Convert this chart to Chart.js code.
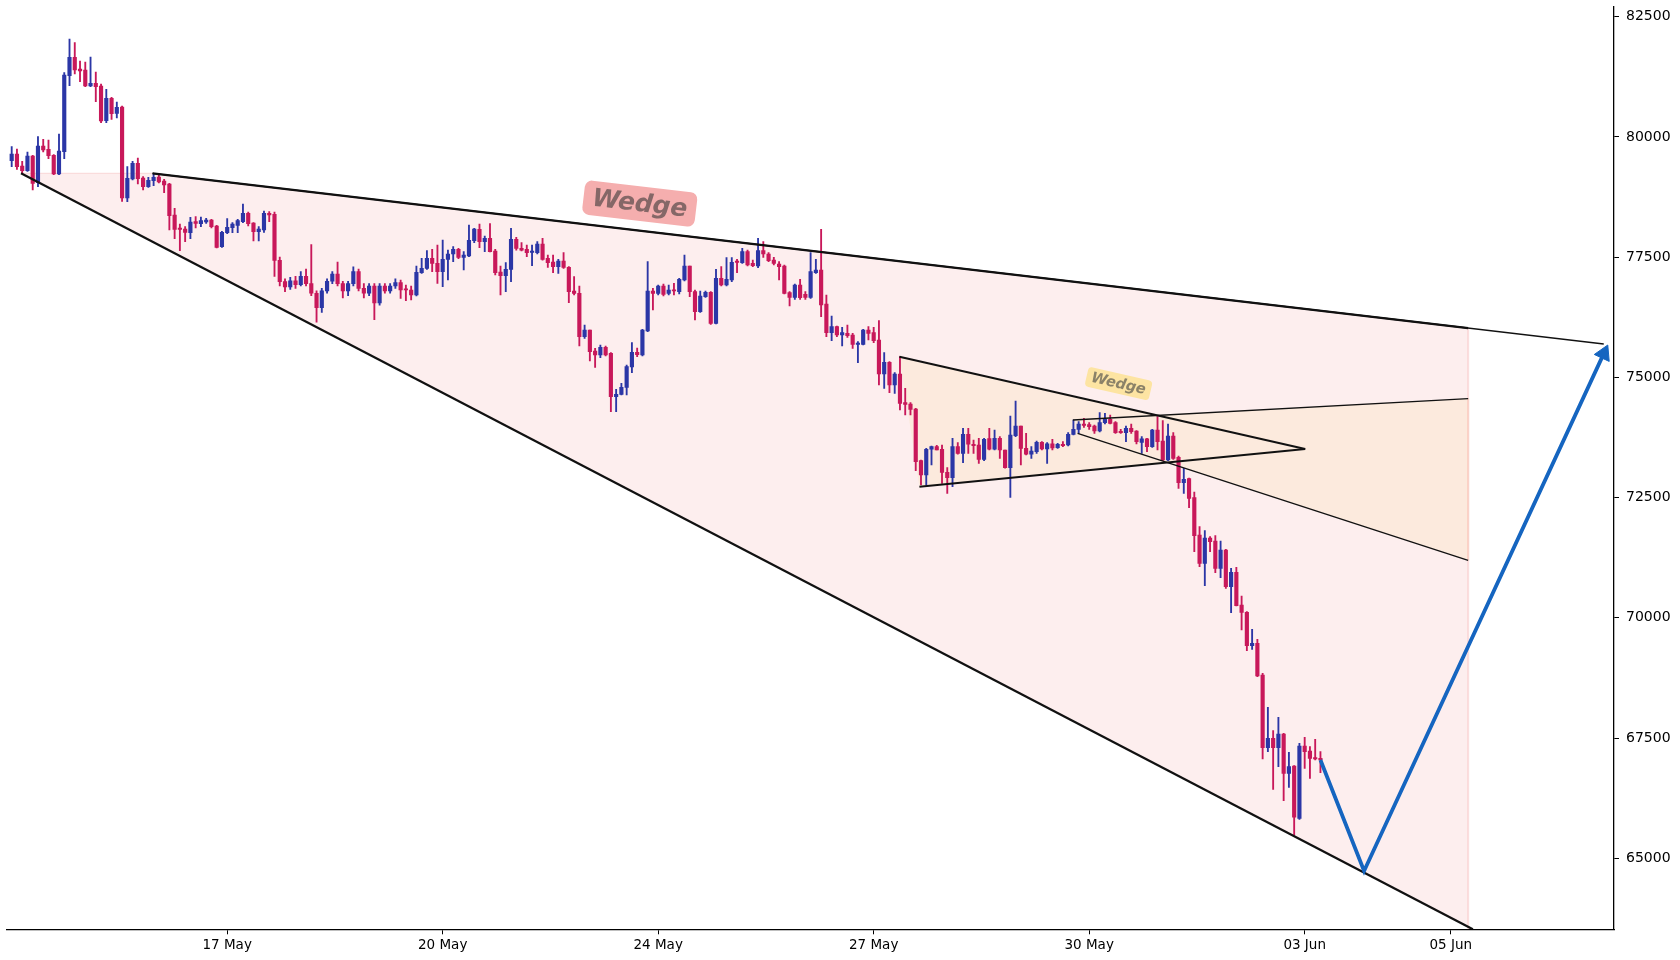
<!DOCTYPE html>
<html><head><meta charset="utf-8">
<script src="https://cdn.jsdelivr.net/npm/chart.js@4.4.1/dist/chart.umd.min.js"></script>
<style>html,body{margin:0;padding:0;background:#fff;}#wrap{width:1680px;height:960px;}</style>
</head><body><div id="wrap"><canvas id="c" width="1680" height="960"></canvas></div>
<script>
// ---- candle data (index-based x axis) ----
const OPEN = [79506,79645,79395,79298,79603,79049,79811,79742,79617,79229,79693,81274,81655,81412,81391,81059,81114,81059,80338,80802,80491,80622,78730,79125,79451,79146,78966,79090,79167,79083,79021,78377,78092,78085,78009,78238,78196,78231,78273,78148,77718,78009,78113,78162,78238,78411,78210,78030,78065,78411,78391,77433,76990,76880,77010,76930,77100,76950,76750,76450,76800,77000,77150,76950,76800,76950,77200,76850,76750,76900,76550,76900,76800,76900,76969,76831,76817,76713,77177,77267,77475,77371,77198,77454,77565,77662,77496,77524,77843,78078,77822,77891,77628,77191,77115,77247,77870,77683,77662,77600,77593,77773,77475,77399,77302,77420,77288,76796,76748,75846,75985,75548,75465,75625,75500,74599,74647,74793,75216,75521,75465,75964,76796,76748,76900,76748,76817,76782,77025,77316,76782,76366,76678,76768,76124,77059,76921,77025,77406,77385,77614,77371,77316,77635,77565,77441,77358,77316,76762,76664,76921,76727,76664,77177,77233,76526,75930,76055,75882,75916,75882,75688,75688,75986,75930,75778,75071,75314,74842,75071,74475,74447,74343,73269,72971,73505,73560,73505,73026,72915,73560,73421,73816,73609,73595,73297,73726,73505,73733,73491,73123,73789,73990,73525,73401,73456,73650,73512,73616,73539,73609,73595,73816,73920,74031,74017,73990,73886,74059,74128,74059,73865,73851,73941,73886,73650,73720,73560,73906,73678,73283,73782,73338,72811,72895,72499,71723,71134,71661,71598,71030,71411,70649,70947,70268,70115,69422,69470,68812,67301,67495,67301,67585,66767,66920,65832,67336,67231,67093,67079];
const HIGH = [79797,79749,79492,79686,79617,80005,79950,79936,79631,80061,81336,82036,81960,81579,81558,81662,81350,81100,80990,80823,80726,80643,79381,79492,79562,79174,79160,79243,79215,79118,79035,78515,78189,78134,78328,78342,78335,78307,78287,78162,78037,78300,78217,78287,78605,78439,78217,78134,78460,78446,78440,77500,77050,77080,77100,77200,77250,77760,76800,76850,77050,77200,77400,77000,77000,77300,77250,76950,76950,76950,76950,76950,76950,77050,77025,76921,76900,77316,77475,77635,77662,77752,77856,77649,77718,77683,77614,78168,78099,78189,77940,78196,77662,77316,77385,78099,77912,77801,77752,77752,77822,77891,77545,77545,77454,77593,77302,77094,76900,76089,75985,75604,75673,75652,75514,74751,74876,75257,75722,75611,75999,77406,76852,76921,76942,76921,76955,77059,77545,77316,76817,76796,76796,76782,77247,77302,77489,77489,77454,77683,77649,77441,77891,77822,77593,77496,77406,77337,76782,76942,77039,76782,77593,77454,78079,76714,76277,76069,76041,76090,75916,75743,76000,76055,76041,76180,75514,75327,75099,75431,74773,74475,74357,73283,73525,73574,73588,73595,73123,73733,73643,73941,73941,73699,73733,73733,73941,73906,73768,73491,74198,74510,73990,73837,73560,73678,73664,73643,73712,73629,73664,73851,74114,74080,74149,74059,74010,74267,74253,74218,74080,73920,73990,74031,73893,73768,73733,73920,74184,74100,74031,73851,73366,73109,72908,72617,71896,71813,71688,71709,71598,71425,71030,71051,70455,70129,69762,69554,68847,68140,67654,67932,67599,67204,66927,67391,67516,67322,67474,67218];
const LOW = [79381,79326,79243,79284,78896,78966,79686,79548,79215,79215,79548,81066,81308,81149,81045,81045,80733,80296,80296,80366,80394,78661,78654,79104,79021,78896,78952,78986,79042,78841,78065,77884,77635,77822,77884,78106,78134,78203,78106,77690,77704,77988,78009,78009,78217,78148,77836,77836,78016,78238,77100,76900,76780,76830,76850,76900,76900,76700,76150,76350,76750,76950,76900,76650,76700,76900,76800,76650,76700,76200,76500,76750,76750,76850,76643,76595,76609,76692,77163,77247,77198,76955,76886,77025,77406,77468,77233,77510,77801,77697,77614,77607,77129,76713,76782,76990,77648,77628,77510,77323,77565,77440,77288,77177,77163,77267,76554,76713,75652,75812,75340,75209,75410,75445,74287,74287,74633,74633,75098,75431,75445,75950,76401,76713,76692,76713,76713,76734,77004,76678,76193,76353,76664,76103,76110,76900,76900,76990,77177,77371,77316,77302,77281,77496,77406,77337,77025,76734,76484,76623,76623,76623,76643,77163,76263,75847,75764,75847,75653,75833,75605,75307,75674,75778,75722,74842,74773,74683,74669,74322,74218,74218,73061,72763,72763,73179,73491,72797,72589,72728,73401,73227,73421,73421,73213,73269,73491,73491,73317,73110,72506,73768,73179,73387,73317,73421,73491,73213,73491,73525,73560,73574,73803,73837,73962,73920,73837,73865,74031,74031,73837,73837,73664,73837,73615,73421,73456,73546,73490,73269,73269,73296,72693,72590,72291,71377,71065,70670,71377,70940,70836,70614,70108,70247,69748,69318,69346,68777,67066,67218,66435,66906,66199,66476,65485,65811,66871,66663,67045,66781];
const CLOSE = [79645,79381,79298,79603,79035,79811,79728,79610,79229,79707,81288,81655,81391,81371,81059,81114,81045,80331,80802,80484,80615,78730,79139,79451,79132,78966,79097,79160,79063,79000,78363,78078,78078,78016,78231,78203,78259,78273,78134,77704,78016,78120,78189,78259,78411,78196,78030,78085,78411,78377,77433,76990,76880,77010,76930,77100,76950,76750,76450,76800,77000,77150,76950,76800,76950,77200,76850,76750,76900,76550,76900,76800,76900,76969,76817,76817,76713,77184,77267,77475,77371,77198,77454,77565,77662,77496,77545,77850,78085,77822,77891,77614,77177,77115,77247,77870,77683,77648,77593,77628,77773,77454,77385,77302,77420,77288,76782,76748,75846,75985,75535,75465,75625,75465,74599,74647,74793,75223,75521,75472,75985,76796,76748,76900,76727,76817,76796,77039,77316,76782,76366,76692,76768,76124,77059,76921,77039,77392,77392,77614,77337,77323,77635,77565,77427,77371,77302,76748,76664,76921,76657,76664,77198,77233,76506,75930,76055,75882,75930,75868,75688,75709,75986,75916,75764,75071,75314,74842,75071,74461,74440,74336,73248,72971,73505,73560,73491,73026,72915,73560,73421,73816,73609,73581,73297,73712,73505,73733,73491,73123,73803,73990,73525,73401,73470,73650,73512,73616,73532,73609,73581,73816,73920,74031,74003,73976,73886,74059,74128,74045,73851,73851,73941,73872,73664,73720,73560,73906,73664,73283,73782,73317,72811,72881,72485,71709,71134,71661,71584,71030,71411,70649,70947,70254,70115,69422,69470,68791,67301,67495,67301,67585,66767,66906,65853,67336,67218,67079,67065,67045];

// ---- axis ticks ----
const X_TICK_POS = [41, 82, 123, 164, 205, 246, 273.8];
const X_TICK_LABELS = ['17 May', '20 May', '24 May', '27 May', '30 May', '03 Jun', '05 Jun'];
const Y_TICKS = [65000, 67500, 70000, 72500, 75000, 77500, 80000, 82500];

// ---- pattern lines: [candle index, price] ----
const BIG_UPPER = [[26.8, 79244], [302.9, 75694]];
const BIG_UPPER_BOLD = [[26.8, 79244], [277.1, 76026]];
const BIG_LOWER = [[1.77, 79244], [278, 63524]];
const BIG_FILL_TOP = [[1.77, 79244], [26.8, 79244], [277.1, 76026]];
const BIG_FILL_BOTTOM = [[1.77, 79244], [277.1, 63575]];
const BIG_EDGE = [[277.1, 76026], [277.1, 63524]];
const SMALL_UPPER = [[168.9, 75430], [246.1, 73511]];
const SMALL_LOWER = [[172.7, 72727], [246.1, 73511]];
const RISE_THIN = [[201.9, 74114], [277.1, 74559]];
const FALL_THIN = [[202.8, 73837], [277.1, 71194]];
const SMALL_FILL_TOP = [[168.9, 75430], [218.0, 74209], [277.1, 74559]];
const SMALL_FILL_BOTTOM = [[168.9, 75430], [172.7, 72727], [219.85, 73231], [277.1, 71194]];
const SMALL_EDGE = [[277.1, 74559], [277.1, 71194]];
const PROJECTION = [[249, 67044], [257.3, 64736], [302.9, 75494]];

// ---- text labels ----
const LABELS = [
  {text: 'Wedge', x: 119.5, y: 78614, size: 25, rot: 6.7, bg: '#f5aeae', fg: 'rgba(105,85,85,0.8)'},
  {text: 'Wedge', x: 210.6, y: 74871, size: 14.5, rot: 13, bg: '#fde4a2', fg: 'rgba(110,105,90,0.8)'}
];

// target plot rectangle (pixels) of the reference figure
const PLOT = {left: 6.7, top: 6.7, right: 1614, bottom: 929.3};

const UP = '#2b36a6', DOWN = '#c8185a';
const IDX = OPEN.map((_, i) => i);
const candleColors = IDX.map(i => CLOSE[i] >= OPEN[i] ? UP : DOWN);
const pts = a => a.map(([x, y]) => ({x, y}));

function lineDs(points, color, width, order, extra) {
  return Object.assign({type: 'line', data: pts(points), borderColor: color, borderWidth: width,
    pointRadius: 0, tension: 0, fill: false, order: order, clip: 0}, extra || {});
}

const labelPlugin = {
  id: 'wedgeLabels',
  afterDatasetsDraw(chart) {
    const {ctx} = chart; const xs = chart.scales.x, ys = chart.scales.y;
    LABELS.forEach(L => {
      const px = xs.getPixelForValue(L.x), py = ys.getPixelForValue(L.y);
      ctx.save();
      ctx.translate(px, py);
      ctx.rotate(L.rot * Math.PI / 180);
      ctx.font = 'italic bold ' + L.size + 'px "DejaVu Sans"';
      const w = ctx.measureText(L.text).width;
      const bw = w + L.size * 0.7, bh = L.size * 1.38;
      ctx.fillStyle = L.bg;
      ctx.beginPath();
      ctx.roundRect(-bw / 2, -bh / 2, bw, bh, L.size * 0.28);
      ctx.fill();
      ctx.fillStyle = L.fg; ctx.textAlign = 'center'; ctx.textBaseline = 'middle';
      ctx.fillText(L.text, 0, L.size * 0.04);
      ctx.restore();
    });
  }
};

const datasets = [
  lineDs(BIG_FILL_TOP, 'rgba(246,190,190,0.55)', 1, 20, {fill: '+1', backgroundColor: '#fdeeee'}),
  lineDs(BIG_FILL_BOTTOM, 'rgba(0,0,0,0)', 0, 20),
  lineDs(SMALL_FILL_TOP, 'rgba(0,0,0,0)', 0, 19, {fill: '+1', backgroundColor: 'rgba(250,228,195,0.4)'}),
  lineDs(SMALL_FILL_BOTTOM, 'rgba(0,0,0,0)', 0, 19),
  lineDs(BIG_EDGE, 'rgba(248,200,200,0.6)', 2, 18),
  lineDs(SMALL_EDGE, 'rgba(250,205,170,0.6)', 2, 18),
  {type: 'bar', data: IDX.map(i => ({x: i, y: [LOW[i], HIGH[i]]})), backgroundColor: candleColors,
    barThickness: 1.2, grouped: false, borderWidth: 0, minBarLength: 1, order: 10},
  {type: 'bar', data: IDX.map(i => ({x: i, y: [OPEN[i], CLOSE[i]]})), backgroundColor: candleColors,
    barThickness: 3.5, grouped: false, borderWidth: 0, minBarLength: 1.2, order: 9},
  lineDs(BIG_LOWER, '#111', 2.2, 5),
  lineDs(BIG_UPPER, '#111', 1.3, 5),
  lineDs(BIG_UPPER_BOLD, '#111', 2.2, 5),
  lineDs(SMALL_UPPER, '#111', 2.0, 5),
  lineDs(SMALL_LOWER, '#111', 2.0, 5),
  lineDs(RISE_THIN, '#111', 1.3, 5),
  lineDs(FALL_THIN, '#111', 1.3, 5),
  lineDs(PROJECTION, '#1565c0', 3.8, 1, {pointRadius: [0, 0, 9.5], pointStyle: 'triangle',
    pointRotation: 25, pointBackgroundColor: '#1565c0', pointBorderColor: '#1565c0', pointBorderWidth: 1})
];

const dims = {yWidth: 1680 - PLOT.right, xHeight: 960 - PLOT.bottom, padL: PLOT.left, padT: PLOT.top};

const chart = new Chart(document.getElementById('c'), {
  type: 'bar',
  data: {datasets},
  options: {
    responsive: false, animation: false, devicePixelRatio: 1,
    layout: {autoPadding: false, padding: () => ({left: dims.padL, top: dims.padT, right: 0, bottom: 0})},
    plugins: {legend: {display: false}, tooltip: {enabled: false}, filler: {drawTime: 'beforeDatasetsDraw'}},
    events: [],
    scales: {
      x: {
        type: 'linear', min: -0.95, max: 304.85, offset: false,
        afterFit(s) { s.height = dims.xHeight; s.paddingLeft = 0; s.paddingRight = 0; },
        afterBuildTicks(s) { s.ticks = X_TICK_POS.map(v => ({value: v})); },
        grid: {display: true, drawOnChartArea: false, drawTicks: true, tickLength: 5, color: '#000', lineWidth: 1, offset: false},
        border: {display: true, color: '#000', width: 1.3},
        ticks: {autoSkip: false, maxRotation: 0, color: '#000', padding: 3,
          font: {family: '"DejaVu Sans"', size: 13.5},
          callback: (v, i) => X_TICK_LABELS[i]}
      },
      y: {
        type: 'linear', position: 'right', min: 63524, max: 82708,
        afterFit(s) { s.width = dims.yWidth; s.paddingTop = 0; s.paddingBottom = 0; },
        afterBuildTicks(s) { s.ticks = Y_TICKS.map(v => ({value: v})); },
        grid: {display: true, drawOnChartArea: false, drawTicks: true, tickLength: 5, color: '#000', lineWidth: 1},
        border: {display: true, color: '#000', width: 1.3},
        ticks: {color: '#000', padding: 7, font: {family: '"DejaVu Sans"', size: 14},
          callback: v => String(v)}
      }
    }
  },
  plugins: [labelPlugin]
});

// nudge the layout so the plot rectangle lands where the reference has it
for (let k = 0; k < 4; k++) {
  const ca = chart.chartArea;
  const dl = PLOT.left - ca.left, dt = PLOT.top - ca.top;
  const dr = ca.right - PLOT.right, db = ca.bottom - PLOT.bottom;
  if (Math.abs(dl) + Math.abs(dt) + Math.abs(dr) + Math.abs(db) < 0.05) break;
  dims.padL += dl; dims.padT += dt; dims.yWidth += dr; dims.xHeight += db;
  chart.update();
}
</script></body></html>
